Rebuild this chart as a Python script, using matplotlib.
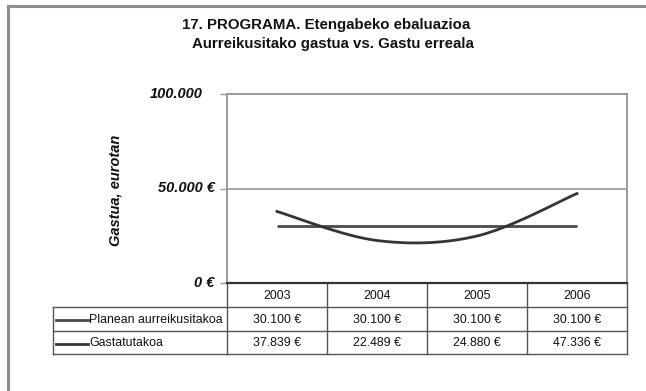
import numpy as np
import matplotlib
matplotlib.use("Agg")
import matplotlib.pyplot as plt
from matplotlib.transforms import blended_transform_factory
from matplotlib.lines import Line2D

plt.rcParams['font.family'] = ['Liberation Sans', 'DejaVu Sans']

# --- data -------------------------------------------------------------
years = ["2003", "2004", "2005", "2006"]
planned = [30100, 30100, 30100, 30100]
spent = [37839, 22489, 24880, 47336]
series_names = ["Planean aurreikusitakoa", "Gastatutakoa"]
ytick_values = [0, 50000, 100000]
ytick_labels = ["0 €", "50.000 €", "100.000"]
title_lines = ["17. PROGRAMA. Etengabeko ebaluazioa",
               "Aurreikusitako gastua vs. Gastu erreala"]
ylabel = "Gastua, eurotan"


def fmt_eur(v):
    return f"{v:,}".replace(",", ".") + " €"


def smooth(xs, ys, n=40):
    """Catmull-Rom curve through the points (spreadsheet-style smoothed line)."""
    xs = np.asarray(xs, float)
    ys = np.asarray(ys, float)
    px = np.concatenate([[xs[0]], xs, [xs[-1]]])
    py = np.concatenate([[ys[0]], ys, [ys[-1]]])
    outx, outy = [], []
    for i in range(1, len(px) - 2):
        p0, p1, p2, p3 = (np.array([px[j], py[j]]) for j in (i - 1, i, i + 1, i + 2))
        c1 = p1 + (p2 - p0) / 6.0
        c2 = p2 - (p3 - p1) / 6.0
        t = np.linspace(0, 1, n)[:, None]
        b = ((1 - t) ** 3) * p1 + 3 * ((1 - t) ** 2) * t * c1 + 3 * (1 - t) * t ** 2 * c2 + t ** 3 * p2
        outx.extend(b[:, 0]); outy.extend(b[:, 1])
    return np.array(outx), np.array(outy)


W, H = 646, 391
fig = plt.figure(figsize=(W / 100, H / 100), dpi=100)
fig.patch.set_facecolor("white")

# overlay in pixel coordinates (origin top-left) for frame and table
ov = fig.add_axes([0, 0, 1, 1], zorder=0)
ov.set_xlim(0, W)
ov.set_ylim(H, 0)
ov.axis("off")

# plot area
L, R, T, B = 227, 627, 94, 283
ax = fig.add_axes([L / W, (H - B) / H, (R - L) / W, (B - T) / H], zorder=2)
ax.set_facecolor("none")
x = np.arange(len(years))
ax.set_xlim(-0.5, len(years) - 0.5)
ax.set_ylim(ytick_values[0], ytick_values[-1])

line_col = "#353535"
flat_col = "#4a4a4a"
ax.plot(x, planned, color=flat_col, lw=2.0, solid_capstyle="butt")
sx, sy = smooth(x, spent)
ax.plot(sx, sy, color=line_col, lw=2.0)

ax.axhline(50000, color="#9a9a9a", lw=1.2)
for side in ("top", "left", "right"):
    ax.spines[side].set_color("#9a9a9a")
    ax.spines[side].set_linewidth(1.4)
ax.spines["bottom"].set_color("#333333")
ax.spines["bottom"].set_linewidth(1.6)
ax.set_xticks([])
ax.set_yticks(ytick_values)
ax.set_yticklabels([])
ax.tick_params(axis="y", length=5, width=1, color="#9a9a9a", direction="out")

# y tick labels
ytr = blended_transform_factory(ov.transData, ax.transData)
label_right = {"0 €": 214, "50.000 €": 215, "100.000": 203}
for v, lab in zip(ytick_values, ytick_labels):
    ov.text(label_right[lab], v, lab, transform=ytr, ha="right", va="center",
            fontsize=10.5, fontweight="bold", fontstyle="italic", color="#111111")

fig.text(115 / W, 1 - 190 / H, ylabel, rotation=90, ha="center", va="center",
         fontsize=10.5, fontweight="bold", fontstyle="italic", color="#111111")

# title
fig.text(326 / W, 1 - 25 / H, title_lines[0], ha="center", va="center",
         fontsize=10.8, fontweight="bold", color="#111111")
fig.text(333 / W, 1 - 44 / H, title_lines[1], ha="center", va="center",
         fontsize=10.8, fontweight="bold", color="#111111")

# outer frame
frame_col = "#8f8f8f"
ov.plot([8, 8], [6, H], color=frame_col, lw=2.2)
ov.plot([8, W], [6, 6], color=frame_col, lw=2.2)

# data table under the plot, columns aligned with the categories
ttr = blended_transform_factory(ax.transData, ov.transData)
tab_col = "#555555"
row_y = [283, 307, 331, 354]
tab_left = 53
for i in range(len(years) + 1):
    ov.add_line(Line2D([i - 0.5, i - 0.5], [row_y[0], row_y[-1]], transform=ttr,
                       color=tab_col, lw=1.0))
ov.add_line(Line2D([tab_left, tab_left], [row_y[1], row_y[-1]], color=tab_col, lw=1.0))
for yy in row_y[1:]:
    ov.add_line(Line2D([tab_left, L], [yy, yy], color=tab_col, lw=1.0))
    ov.add_line(Line2D([-0.5, len(years) - 0.5], [yy, yy], transform=ttr,
                       color=tab_col, lw=1.0))

txt_kw = dict(ha="center", va="center", fontsize=8.9, color="#111111")
for i, yr in enumerate(years):
    ov.text(i, (row_y[0] + row_y[1]) / 2 + 1, yr, transform=ttr, **txt_kw)
for r, (name, vals, col) in enumerate(zip(series_names, [planned, spent], [flat_col, line_col])):
    yc = (row_y[r + 1] + row_y[r + 2]) / 2 + 1
    ov.add_line(Line2D([56, 88], [yc, yc], color=col, lw=2.0))
    ov.text(89, yc, name, ha="left", va="center", fontsize=8.9, color="#111111")
    for i, v in enumerate(vals):
        ov.text(i, yc, fmt_eur(v), transform=ttr, **txt_kw)

fig.savefig("out.png", dpi=100, facecolor="white")
